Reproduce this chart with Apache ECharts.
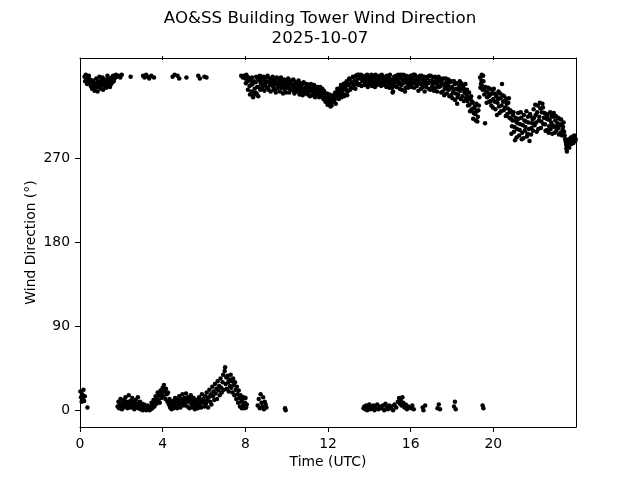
<!DOCTYPE html>
<html><head><meta charset="utf-8">
<script src="https://cdn.jsdelivr.net/npm/echarts@6/dist/echarts.min.js"></script>
<style>html,body{margin:0;padding:0;background:#fff}#c{width:640px;height:480px}</style>
</head><body><div id="c"></div>
<script>
const titleLine1 = "AO&SS Building Tower Wind Direction";
const titleLine2 = "2025-10-07";
const xLabel = "Time (UTC)";
const yLabel = "Wind Direction (°)";
const xTicks = [0, 4, 8, 12, 16, 20];
const yTicks = [0, 90, 180, 270];

// [hour UTC, direction deg] — near-north band
const highEarly = [
[0.22,357],[0.25,352],[0.28,359],[0.31,355],[0.34,349],[0.37,356],[0.40,353],[0.43,358],[0.46,350],[0.49,354],
[0.52,347],[0.55,351],[0.58,344],[0.61,349],[0.64,353],[0.67,346],[0.70,342],[0.73,350],[0.76,345],[0.79,355],
[0.82,348],[0.85,341],[0.88,352],[0.91,346],[0.94,357],[0.97,350],[1.00,344],[1.03,353],[1.06,348],[1.09,356],
[1.12,343],[1.15,351],[1.18,347],[1.21,354],[1.24,349],[1.27,345],[1.30,352],[1.33,358],[1.36,348],[1.39,355],
[1.42,350],[1.45,346],[1.48,353],[1.51,349],[1.54,356],[1.57,351],[1.60,358],[1.63,352],[1.68,355],[1.74,359],
[1.80,357],[1.88,358],[1.95,356],[2.02,359],[2.45,357],[3.05,358],[3.12,356],[3.20,359],[3.28,357],[3.35,355],
[3.45,358],[3.58,356],[4.48,357],[4.58,359],[4.72,358],[4.80,355],[5.15,356],[5.72,358],[5.80,355],[6.02,357],
[6.12,356],[7.80,358],[7.88,356]
];

const highLate = [
[7.95,358],[8.00,355],[8.05,359],[8.10,352],[8.15,356],[8.20,347],[8.25,353],[8.30,341],[8.35,349],[8.40,337],
[8.45,344],[8.50,351],[8.55,339],[8.60,355],[8.65,346],[8.70,358],[8.75,350],[8.80,354],
[8.85,347],[8.90,353],[8.95,349],[9.00,356],[9.05,351],[9.10,345],[9.15,352],[9.20,348],[9.25,355],[9.30,350],
[9.35,346],[9.40,353],[9.45,349],[9.50,344],[9.55,351],[9.60,347],[9.65,354],[9.70,349],[9.75,345],[9.80,352],
[9.85,348],[9.90,343],[9.95,350],[10.00,346],
[10.05,352],[10.10,348],[10.15,344],[10.20,349],[10.25,353],[10.30,346],[10.35,342],[10.40,348],[10.45,345],[10.50,350],
[10.55,343],[10.60,347],[10.65,341],[10.70,346],[10.75,349],[10.80,344],[10.85,340],[10.90,345],[10.95,348],[11.00,343],
[11.05,346],[11.10,341],[11.15,345],[11.20,342],[11.25,347],[11.30,340],[11.35,344],[11.40,339],[11.45,343],[11.50,346],
[11.55,341],[11.60,338],[11.65,343],[11.70,340],[11.75,337],[11.80,342],
[11.85,338],[11.90,334],[11.95,339],[12.00,331],[12.05,336],[12.10,328],[12.12,325],[12.15,333],[12.20,330],[12.25,337],
[12.30,331],[12.35,340],[12.40,334],[12.45,344],[12.50,336],[12.55,339],[12.60,345],[12.65,335],[12.70,342],[12.75,349],
[12.80,338],[12.85,346],[12.90,352],[12.95,341],[13.00,348],[13.05,354],[13.10,345],[13.15,351],[13.20,357],[13.25,347],
[13.30,353],[13.35,358],[13.40,349],[13.45,355],[13.50,359],
[13.55,356],[13.60,359],[13.65,354],[13.70,357],[13.75,352],[13.80,358],[13.85,355],[13.90,359],[13.95,353],[14.00,357],
[14.05,356],[14.10,359],[14.15,354],[14.20,358],[14.25,355],[14.30,359],[14.35,352],[14.40,357],[14.45,354],[14.50,358],
[14.55,356],[14.60,359],[14.65,353],[14.70,357],[14.75,350],[14.80,355],[14.85,358],[14.90,352],[14.95,356],[15.00,359],
[15.05,354],[15.10,345],[15.12,350],[15.15,341],[15.20,357],[15.25,353],[15.30,358],[15.35,355],[15.40,359],[15.45,351],
[15.50,356],
[15.55,348],[15.60,354],[15.65,359],[15.70,351],[15.75,345],[15.80,355],[15.85,349],[15.90,357],[15.95,352],[16.00,358],
[16.05,346],[16.10,355],[16.15,350],[16.20,359],[16.25,353],[16.30,347],[16.35,356],[16.40,351],[16.45,358],[16.50,344],
[16.55,354],[16.60,349],[16.65,357],[16.70,352],[16.75,346],[16.80,355],[16.85,350],[16.90,358],[16.95,343],[17.00,353],
[17.05,348],[17.10,356],[17.15,351],[17.20,345],[17.25,354],[17.30,349],[17.35,357],[17.40,352],
[17.45,347],[17.50,353],[17.55,341],[17.60,349],[17.65,344],[17.70,355],[17.75,339],[17.80,348],[17.85,343],[17.90,351],
[17.95,337],[18.00,346],[18.05,340],[18.10,352],[18.15,332],[18.20,344],[18.25,328],[18.30,338],[18.35,347],[18.40,342],
[18.45,350],[18.50,336],[18.55,345],[18.60,340],[18.65,349],
[18.70,338],[18.75,331],[18.80,335],[18.85,327],[18.90,333],[18.95,322],[19.00,329],[19.05,318],[19.10,325],[19.15,310],
[19.20,320],[19.25,314],[19.30,326],
[19.36,356],[19.40,349],[19.44,359],[19.48,343],[19.52,352],[19.56,338],[19.60,307],
[19.65,341],[19.70,335],[19.75,345],[19.80,330],[19.85,338],[19.90,326],[19.95,343],[20.00,333],[20.05,339],[20.10,322],
[20.15,336],[20.20,329],[20.25,341],[20.30,318],[20.35,334],[20.40,326],[20.42,349],[20.45,337],[20.50,321],[20.55,331],
[20.60,315],[20.65,328],[20.70,323],[20.75,334],[20.80,319],
[20.85,312],[20.90,304],[20.95,316],[21.00,298],[21.05,289],[21.10,309],[21.15,301],[21.20,318],[21.25,294],[21.30,306],
[21.35,313],[21.40,297],[21.45,291],[21.50,310],[21.55,303],[21.60,320],[21.65,296],[21.70,308],[21.75,288],[21.80,315],
[21.85,302],[21.90,311],
[21.95,322],[22.00,305],[22.05,316],[22.10,298],[22.15,326],[22.20,310],[22.25,329],[22.30,302],[22.35,319],[22.40,324],
[22.45,313],[22.50,306],[22.55,317],[22.60,300],[22.65,311],[22.70,304],[22.75,319],[22.80,308],[22.85,296],[22.90,314],
[22.95,303],[23.00,310],[23.05,299],[23.10,307],[23.15,302],[23.20,312],[23.25,297],[23.30,305],[23.35,300],[23.40,308],
[23.45,294],[23.50,287],[23.53,280],[23.56,277],[23.60,284],[23.65,290],[23.70,286],[23.75,292],[23.80,289],[23.85,293],
[23.90,288],[23.95,291],[23.98,290]
];

const highLate2 = [
[8.025,350],[8.075,357],[8.125,343],[8.175,354],[8.225,338],[8.275,348],[8.325,356],[8.375,335],[8.425,352],[8.475,340],
[8.525,357],[8.575,346],[8.625,336],[8.675,353],[8.725,343],[8.775,357],
[8.825,344],[8.875,357],[8.925,342],[8.975,352],[9.025,346],[9.075,358],[9.125,343],[9.175,355],[9.225,341],[9.275,351],
[9.325,357],[9.375,343],[9.425,354],[9.475,340],[9.525,356],[9.575,345],[9.625,350],[9.675,341],[9.725,356],[9.775,347],
[9.825,339],[9.875,354],[9.925,347],[9.975,340],
[10.025,345],[10.075,355],[10.125,340],[10.175,352],[10.225,343],[10.275,348],[10.325,354],[10.375,339],[10.425,351],[10.475,341],
[10.525,348],[10.575,353],[10.625,338],[10.675,350],[10.725,342],[10.775,337],[10.825,351],[10.875,343],[10.925,339],[10.975,349],
[11.025,338],[11.075,348],[11.125,336],[11.175,349],[11.225,337],[11.275,343],[11.325,348],[11.375,335],[11.425,346],[11.475,338],
[11.525,344],[11.575,335],[11.625,346],[11.675,336],[11.725,344],[11.775,333],[11.825,340],[11.875,330],[11.925,336],[11.975,327],
[12.025,333],[12.075,338],[12.125,329],[12.175,326],[12.225,334],[12.275,331],
[12.325,337],[12.375,328],[12.425,339],[12.475,342],[12.525,333],[12.575,341],[12.625,348],[12.675,338],[12.725,345],[12.775,336],
[12.825,350],[12.875,343],[12.925,337],[12.975,349],[13.025,355],[13.075,343],[13.125,350],[13.175,345],[13.225,356],[13.275,349],
[13.325,344],[13.375,352],[13.425,359],[13.475,348],
[13.525,349],[13.575,355],[13.625,347],[13.675,352],[13.725,356],[13.775,348],[13.825,353],[13.875,350],[13.925,346],[13.975,354],
[14.025,349],[14.075,352],[14.125,347],[14.175,355],[14.225,350],[14.275,346],[14.325,353],[14.375,348],[14.425,356],[14.475,349],
[14.525,353],[14.575,347],[14.625,351],[14.675,355],[14.725,348],[14.775,352],[14.825,346],[14.875,354],[14.925,349],[14.975,345],
[15.025,352],[15.075,348],[15.125,340],[15.175,353],[15.225,347],[15.275,351],[15.325,346],[15.375,354],[15.425,349],[15.475,344],
[15.525,359],[15.575,343],[15.625,350],[15.675,355],[15.725,341],[15.775,358],[15.825,352],[15.875,345],[15.925,355],[15.975,349],
[16.025,356],[16.075,351],[16.125,359],[16.175,345],[16.225,352],[16.275,357],[16.325,350],[16.375,342],[16.425,354],[16.475,349],
[16.525,358],[16.575,346],[16.625,353],[16.675,341],[16.725,356],[16.775,350],[16.825,357],[16.875,344],[16.925,352],[16.975,358],
[17.025,345],[17.075,351],[17.125,342],[17.175,357],[17.225,350],[17.275,341],[17.325,353],[17.375,346],
[17.425,355],[17.475,340],[17.525,349],[17.575,355],[17.625,337],[17.675,346],[17.725,351],[17.775,344],[17.825,354],[17.875,336],
[17.925,345],[17.975,352],[18.025,334],[18.075,343],[18.125,349],[18.175,339],[18.225,350],[18.275,335],[18.325,343],[18.375,352],
[18.425,333],[18.475,344],[18.525,348],[18.575,331],[18.625,343],[18.675,334],
[18.725,343],[18.775,326],[18.825,340],[18.875,320],[18.925,336],[18.975,330],[19.025,312],[19.075,323],[19.125,317],[19.175,328],
[19.225,309],[19.275,321],[19.325,335],
[19.375,345],[19.425,353],[19.465,347],[19.505,358],[19.545,344],
[19.625,346],[19.675,329],[19.725,340],[19.775,336],[19.825,344],[19.875,331],[19.925,339],[19.975,324],[20.025,344],[20.075,330],
[20.125,338],[20.175,316],[20.225,333],[20.275,325],[20.325,339],[20.375,320],[20.475,330],[20.525,336],[20.575,324],[20.625,333],
[20.675,317],[20.725,329],[20.775,313],
[20.825,321],[20.875,296],[20.925,310],[20.975,319],[21.025,303],[21.075,313],[21.125,292],[21.175,307],[21.225,312],[21.275,300],
[21.325,319],[21.375,290],[21.425,305],[21.475,316],[21.525,299],[21.575,309],[21.625,293],[21.675,314],[21.725,301],[21.775,317],
[21.825,295],[21.875,307],[21.925,299],
[21.975,313],[22.025,327],[22.075,308],[22.125,319],[22.175,301],[22.225,314],[22.275,323],[22.325,309],[22.375,328],[22.425,306],
[22.475,318],[22.525,299],[22.575,312],[22.625,316],[22.675,297],[22.725,311],[22.775,301],[22.825,315],[22.875,305],[22.925,318],
[22.975,297],[23.025,315],[23.075,304],[23.125,313],[23.175,295],[23.225,306],[23.275,311],[23.325,294],[23.375,303],[23.425,298],
[23.475,290],[23.525,284],[23.575,282],[23.625,287],[23.675,281],[23.725,289],[23.775,285],[23.825,291],[23.875,286],[23.925,294],
[23.965,288]
];

// [hour UTC, direction deg] — low band
const lowBand = [
[0.02,20],[0.05,14],[0.08,9],[0.11,17],[0.14,12],[0.17,22],[0.20,10],[0.23,15],[0.36,3],
[1.82,4],[1.86,9],[1.89,2],[1.93,7],[1.96,12],[2.00,5],[2.03,1],[2.06,8],[2.10,3],[2.13,11],
[2.16,6],[2.20,14],[2.23,4],[2.26,9],[2.30,2],[2.33,7],[2.36,16],[2.40,5],[2.43,10],[2.46,3],
[2.50,8],[2.53,13],[2.56,4],[2.60,9],[2.63,1],[2.66,6],[2.70,11],[2.73,3],[2.76,7],[2.80,14],
[2.83,2],[2.86,5],[2.90,9],[2.93,1],[2.96,4],[3.00,7],[3.03,0],[3.06,3],[3.10,6],[3.13,1],
[3.16,4],[3.20,0],[3.23,2],[3.26,5],[3.30,1],[3.33,3],[3.36,0],
[3.40,4],[3.43,1],[3.46,8],[3.50,2],[3.53,6],[3.56,11],[3.60,4],[3.63,9],[3.66,15],[3.70,7],
[3.73,12],[3.76,19],[3.80,10],[3.83,16],[3.86,8],[3.90,21],[3.93,13],[3.96,18],[4.00,24],[4.03,15],
[4.06,27],[4.10,20],[4.13,12],[4.16,23],[4.20,17],[4.23,9],[4.26,19],[4.30,6],
[4.33,12],[4.36,3],[4.40,8],[4.43,1],[4.46,5],
[4.50,10],[4.53,2],[4.56,7],[4.60,13],[4.63,4],[4.66,9],[4.70,2],[4.73,11],[4.76,6],[4.80,15],
[4.83,8],[4.86,3],[4.90,12],[4.93,7],[4.96,17],[5.00,10],[5.03,5],[5.06,13],[5.10,8],[5.13,18],
[5.16,11],[5.20,4],[5.23,14],[5.26,9],[5.30,2],[5.33,12],[5.36,16],[5.40,6],[5.43,10],[5.46,3],
[5.50,13],[5.53,7],[5.56,1],[5.60,9],[5.63,4],[5.66,11],[5.70,2],[5.73,7],[5.76,14],[5.80,5],
[5.83,10],[5.86,3],[5.90,17],[5.93,8],[5.96,12],
[6.00,10],[6.03,4],[6.06,15],[6.10,7],[6.13,19],[6.16,11],[6.20,3],[6.23,14],[6.26,22],[6.30,9],
[6.33,17],[6.36,6],[6.40,25],[6.43,15],[6.46,20],[6.50,11],[6.53,28],[6.56,18],[6.60,23],[6.63,12],
[6.66,31],[6.70,21],[6.73,26],[6.76,16],[6.80,34],[6.83,24],[6.86,19],[6.90,30],[6.93,38],[6.96,22],
[7.00,42],[7.02,46],[7.05,28],[7.08,35],[7.11,23],[7.14,37],[7.17,30],[7.20,20],[7.23,33],[7.26,26],
[7.29,38],[7.32,24],[7.35,31],[7.38,19],[7.41,34],[7.44,27],[7.47,16],[7.50,30],[7.53,22],[7.56,12],
[7.59,25],[7.62,17],[7.65,8],[7.68,21],[7.71,13],[7.74,4],[7.77,16],[7.80,9],[7.83,2],[7.86,12],
[7.89,5],[7.92,14],[7.95,2],[7.98,8],[8.01,13],[8.04,3],[8.07,6],
[8.60,5],[8.65,12],[8.70,2],[8.74,17],[8.78,8],[8.82,4],[8.86,14],[8.90,1],[8.94,9],[8.98,6],[9.02,3],
[9.92,2],[9.95,0],
[13.72,2],[13.76,4],[13.80,1],[13.85,5],[13.90,0],[13.95,3],[14.00,6],[14.05,1],[14.10,4],[14.15,2],
[14.20,5],[14.25,0],[14.30,3],[14.38,6],[14.45,1],[14.52,4],[14.60,2],[14.66,5],[14.72,0],[14.78,7],
[14.84,3],[14.90,1],[14.96,5],[15.02,2],[15.08,4],[15.15,0],[15.22,6],[15.30,3],[15.38,9],[15.44,13],
[15.48,7],[15.52,11],[15.56,5],[15.60,14],[15.64,8],[15.70,3],[15.76,6],[15.82,1],[15.88,4],[16.02,2],
[16.08,5],[16.15,1],[16.58,3],[16.62,0],[16.70,5],[17.30,2],[17.36,6],[17.42,1],[18.10,4],[18.14,9],
[18.18,1],[19.48,5],[19.52,2]
];

const allPoints = highEarly.concat(highLate, highLate2, lowBand);

const FONT = 'DejaVu Sans';
const chart = echarts.init(document.getElementById('c'), null, {renderer: 'canvas'});
const black = '#000';
const xMin = 0, xMax = 24, yMin = -17.95, yMax = 376.95;
const titleStyle = {fontFamily: FONT, fontSize: 16.67, fontWeight: 'normal', color: black};
chart.setOption({
  animation: false,
  backgroundColor: '#fff',
  title: [
    {text: titleLine1, left: 'center', top: 10, padding: 0, textStyle: titleStyle},
    {text: titleLine2, left: 'center', top: 30, padding: 0, textStyle: titleStyle}
  ],
  grid: {left: 80, right: 64, top: 58, bottom: 53, containLabel: false},
  xAxis: [
    {type: 'value', position: 'bottom', min: xMin, max: xMax,
     name: xLabel, nameLocation: 'middle', nameGap: 28, nameMoveOverlap: false,
     nameTextStyle: {fontFamily: FONT, fontSize: 13.9, color: black},
     axisLine: {show: true, onZero: false, lineStyle: {color: black, width: 1}},
     axisTick: {show: true, length: 5, lineStyle: {color: black, width: 1}, customValues: xTicks},
     axisLabel: {show: true, margin: 10, fontFamily: FONT, fontSize: 13.9, color: black, customValues: xTicks},
     splitLine: {show: false}},
    {type: 'value', position: 'top', min: xMin, max: xMax,
     axisLine: {show: true, onZero: false, lineStyle: {color: black, width: 1}},
     axisTick: {show: true, inside: false, length: 2, lineStyle: {color: black, width: 1}, customValues: [4,8,12,16,20]},
     axisLabel: {show: false}, splitLine: {show: false}},
    {type: 'value', position: 'top', min: xMin, max: xMax,
     axisLine: {show: false, onZero: false},
     axisTick: {show: true, inside: true, length: 2, lineStyle: {color: black, width: 1}, customValues: [4,8,12,16,20]},
     axisLabel: {show: false}, splitLine: {show: false}}
  ],
  yAxis: [
    {type: 'value', position: 'left', min: yMin, max: yMax,
     name: yLabel, nameLocation: 'middle', nameGap: 42, nameMoveOverlap: false,
     nameTextStyle: {fontFamily: FONT, fontSize: 13.9, color: black},
     axisLine: {show: true, onZero: false, lineStyle: {color: black, width: 1}},
     axisTick: {show: true, length: 5, lineStyle: {color: black, width: 1}, customValues: yTicks},
     axisLabel: {show: true, margin: 10, fontFamily: FONT, fontSize: 13.9, color: black, customValues: yTicks},
     splitLine: {show: false}},
    {type: 'value', position: 'right', min: yMin, max: yMax,
     axisLine: {show: true, onZero: false, lineStyle: {color: black, width: 1}},
     axisTick: {show: false}, axisLabel: {show: false}, splitLine: {show: false}}
  ],
  series: [{
    type: 'scatter', xAxisIndex: 0, yAxisIndex: 0,
    data: allPoints, symbol: 'circle', symbolSize: 4.5,
    itemStyle: {color: black, opacity: 1}, silent: true
  }]
});
</script></body></html>
